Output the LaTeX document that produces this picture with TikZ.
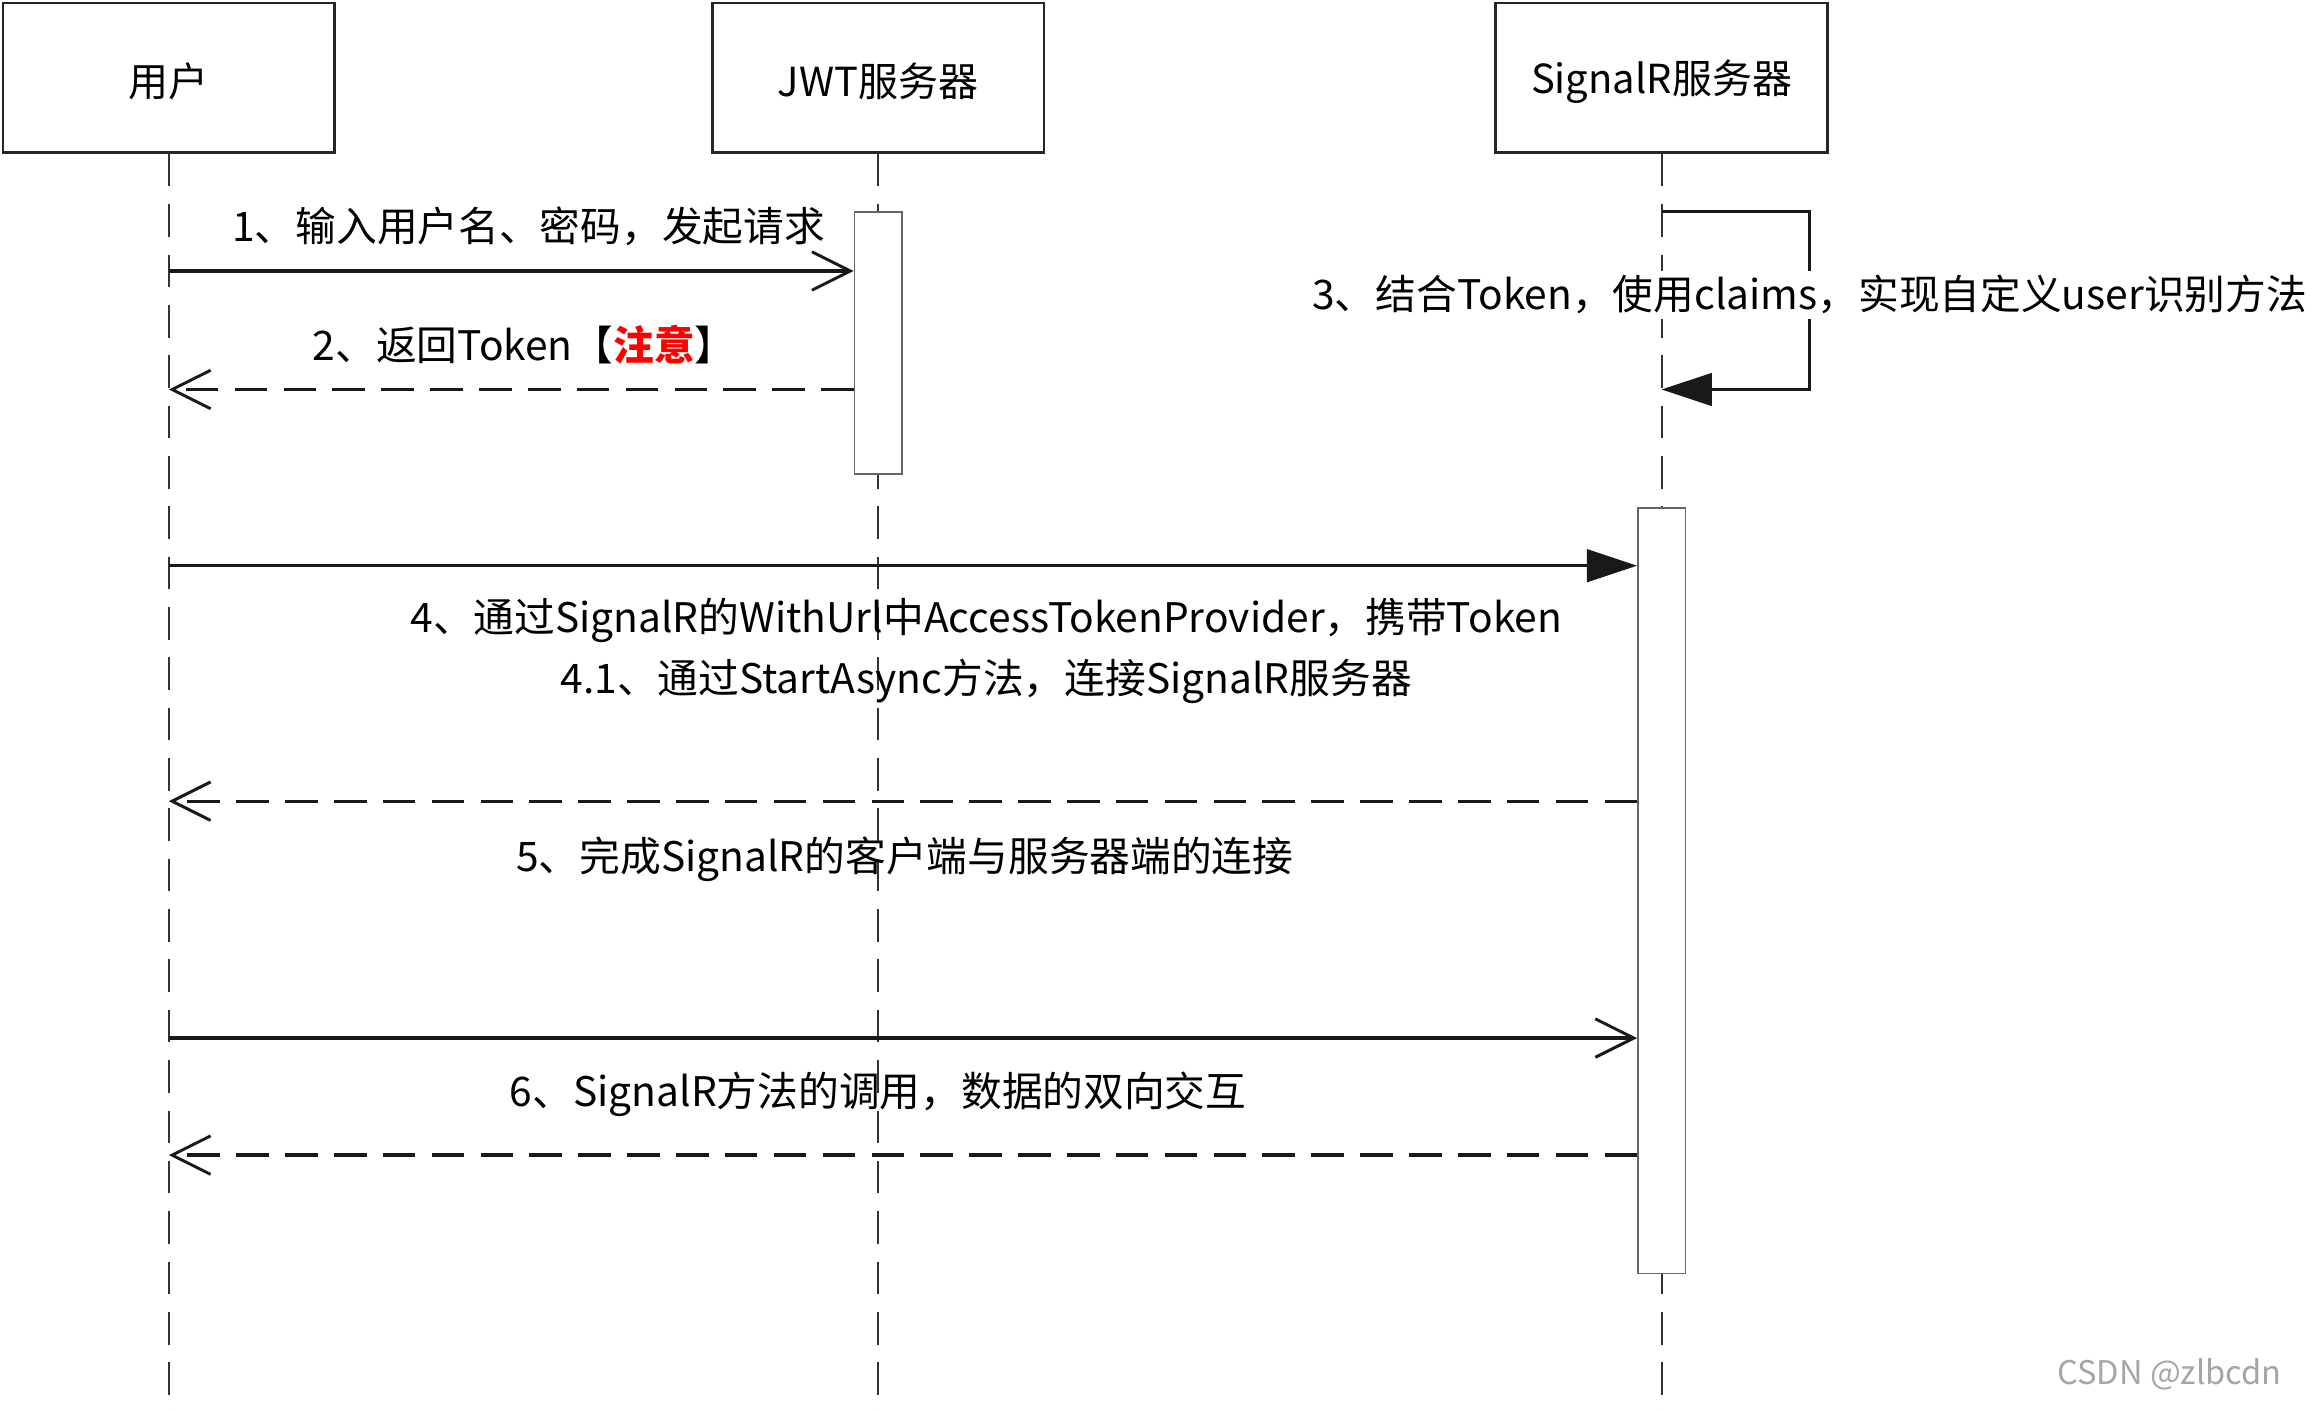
\documentclass[tikz,border=0pt]{standalone}
\usepackage{fontspec}
\setmainfont{Noto Sans CJK SC}
\usetikzlibrary{arrows.meta}
\begin{document}
\begin{tikzpicture}[x=1pt,y=-1pt,
  actor/.style={draw=black!85,line width=1.8pt,minimum width=224pt,minimum height=101pt,inner sep=0pt,font=\fontsize{27}{30}\selectfont},
  life/.style={draw=black!80,line width=1.4pt,dash pattern=on 22pt off 12pt},
  act/.style={draw=black!60,fill=white,line width=1pt,minimum width=32pt,inner sep=0pt},
  msg/.style={draw=black!90,line width=2.2pt},
  ret/.style={msg,dash pattern=on 22pt off 11pt},
  openhead/.style={-{Straight Barb[length=26pt,width=26pt,line width=2pt]}},
  fillhead/.style={-{Triangle[length=34pt,width=22pt]}},
  lbl/.style={font=\fontsize{27.5}{41}\selectfont,inner sep=1pt,align=center}]
\useasboundingbox (0,0) rectangle (1568,954);
% actors
\node[actor] (u) at (114,52.5) {\raisebox{-2.5pt}[\height][\depth]{用户}};
\node[actor] (j) at (593,52.5) {\raisebox{-2.5pt}[\height][\depth]{JWT服务器}};
\node[actor] (s) at (1122,52.5) {\raisebox{-2.5pt}[\height][\depth]{SignalR服务器}};
% lifelines
\coordinate (bot) at (0,956);
\draw[life] (u.south) -- (u.south |- bot);
\draw[life] (j.south) -- (j.south |- bot);
\draw[life] (s.south) -- (s.south |- bot);
% activations
\node[act,minimum height=177pt] (ja) at (593,231.5) {};
\node[act,minimum height=517pt] (sa) at (1122,601.5) {};
% message 1
\coordinate (m1) at (0,183);
\draw[msg,openhead] (u.south |- m1) -- (ja.west |- m1);
\node[lbl] (l1) at (357,153) {1、输入用户名、密码，发起请求};
% message 2
\coordinate (m2) at (0,263);
\draw[ret,openhead] (ja.west |- m2) -- (u.south |- m2);
\node[lbl] (l2) at (354,233) {2、返回Token【\textcolor{red}{\bfseries 注意}】};
% self message 3
\coordinate (m3a) at (0,143);
\coordinate (m3b) at (0,263);
\coordinate (m3r) at (1222,0);
\draw[msg,line width=1.8pt,fillhead] (s.south |- m3a) -- (m3r |- m3a) -- (m3r |- m3b) -- (s.south |- m3b);
\node[lbl,fill=white,inner sep=3pt] (l3) at (1222,199) {3、结合Token，使用claims，实现自定义user识别方法};
% message 4
\coordinate (m4) at (0,382);
\draw[msg,fillhead] (u.south |- m4) -- (sa.west |- m4);
\node[lbl] (l4) at (666,439.5) {4、通过SignalR的WithUrl中AccessTokenProvider，携带Token\\4.1、通过StartAsync方法，连接SignalR服务器};
% message 5
\coordinate (m5) at (0,541);
\draw[ret,openhead] (sa.west |- m5) -- (u.south |- m5);
\node[lbl] (l5) at (611,580) {5、完成SignalR的客户端与服务器端的连接};
% message 6
\coordinate (m6) at (0,701);
\draw[msg,openhead] (u.south |- m6) -- (sa.west |- m6);
\node[lbl] (l6) at (593,739) {6、SignalR方法的调用，数据的双向交互};
% return 6
\coordinate (m7) at (0,780);
\draw[ret,openhead] (sa.west |- m7) -- (u.south |- m7);
% watermark
\node[font=\fontsize{22}{24}\selectfont,text=black!35,inner sep=0pt] (wm) at (1465,928) {CSDN @zlbcdn};
\end{tikzpicture}
\end{document}
